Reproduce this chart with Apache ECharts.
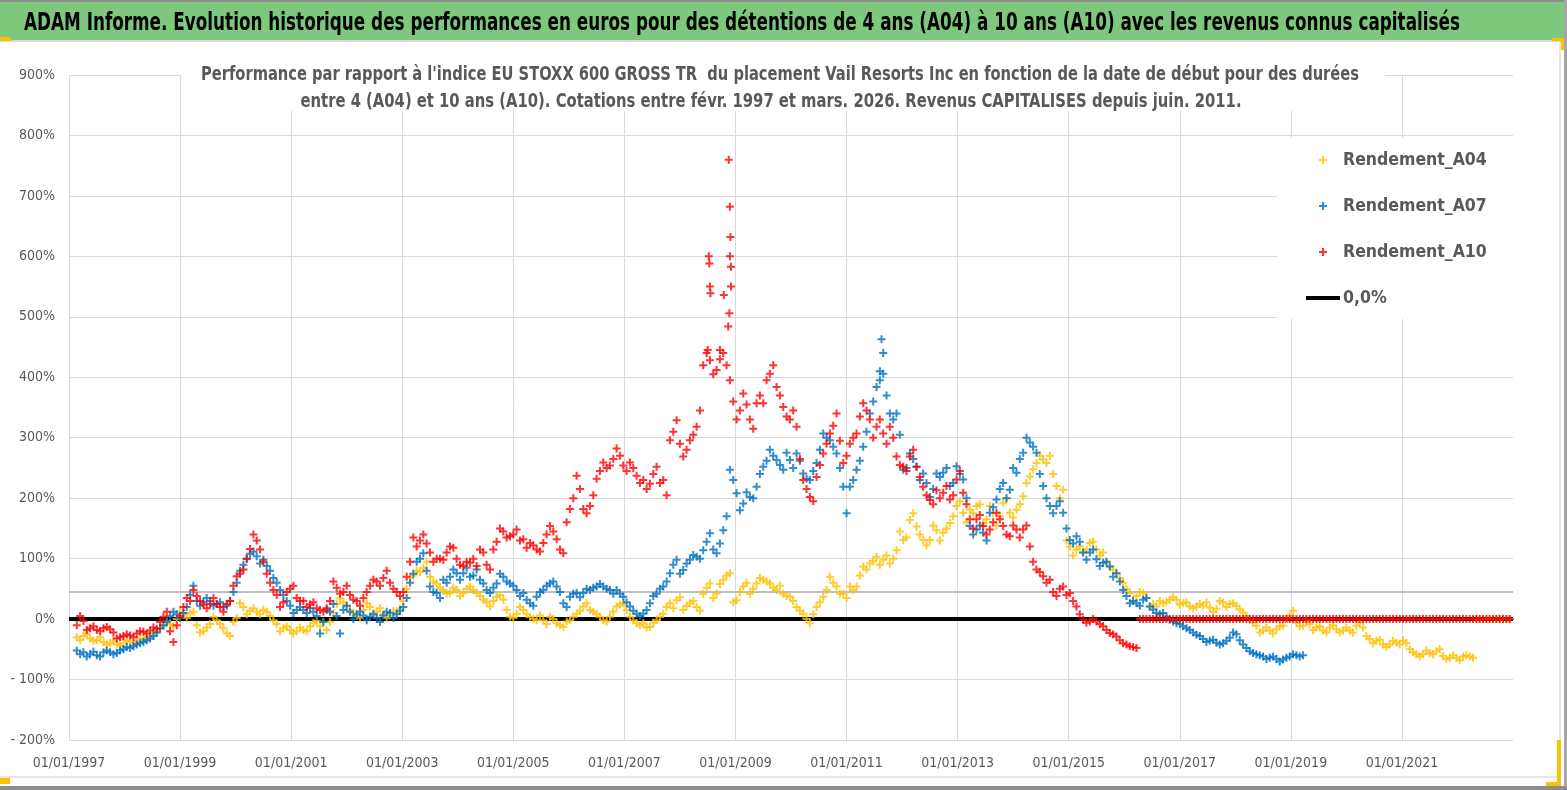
<!DOCTYPE html>
<html><head><meta charset="utf-8">
<script src="https://cdn.jsdelivr.net/npm/echarts@6/dist/echarts.min.js"></script>
<style>html,body{margin:0;padding:0;background:#fff}#c{width:1567px;height:790px}</style>
</head><body><div id="c"></div>
<script>
// ---- data ----
const START_YEAR = 1997.14;   // date of first sample (decimal year)
const STEP = 0.12;            // spacing of samples in years
const MID_START = 1997.20;    // second reading pass, half a step later
const A04 = [-30,-28,-32,-35,-38,-40,-42,-40,-38,-36,-34,-28,-20,-12,-8,0,8,10,-10,-20,-8,-2,-15,-28,2,20,14,12,15,5,-8,-15,-18,-20,-18,-12,-3,-5,-5,25,28,15,5,15,20,12,8,6,10,30,68,80,
 85,70,59,48,43,48,43,54,43,32,21,37,32,4,9,15,4,-2,-2,4,-7,-13,-2,9,21,15,9,-2,4,21,26,4,-7,
 -7,-13,-2,9,26,31,15,26,20,42,59,42,65,76,31,54,42,59,65,59,48,42,37,20,9,-7,20,37,70,54,42,54,54,87,92,103,98,92,114,131,164,153,131,131,147,
 143,159,187,176,181,187,159,187,154,192,176,181,203,236,258,264,270,220,214,120,115,110,126,115,110,87,76,60,43,38,43,21,21,26,32,32,26,21,21,
 22,19,17,28,25,22,11,0,-11,-19,-19,-17,-11,6,-6,-11,-8,-14,-19,-14,-17,-19,-19,-11,-14,-33,-36,-42,-42,-39,-36,-50,-58,-58,-56,-53,-61,-64,-64,-62,-62,
 0,0,0,0,0,0];
const A04_mid = [-35,-25,-36,-30,-42,-36,-44,-36,-40,-32,-30,-24,-16,-4,-12,12,2,12,-22,-14,4,-8,-24,-5,26,8,18,8,12,-2,-20,-12,-24,-14,-20,-6,-12,-18,10,34,22,10,2,26,10,18,2,14,18,50,72,
 78,95,62,52,42,52,38,50,48,38,28,30,40,15,2,20,8,0,6,-8,0,-10,-4,4,14,26,12,4,-4,12,24,15,-2,-10,
 -14,-6,4,20,18,36,22,30,14,52,35,58,72,28,45,60,50,68,62,52,55,38,30,14,0,8,28,48,60,42,35,48,72,82,96,90,105,100,145,135,175,140,122,155,
 130,150,170,195,160,175,190,165,175,170,200,168,190,225,248,270,258,240,200,130,105,120,115,128,105,95,82,68,50,30,45,35,25,30,28,36,24,28,18,
 25,28,12,30,20,26,16,5,-6,-22,-14,-24,-12,0,14,-12,-4,-18,-12,-22,-10,-22,-14,-22,-6,-28,-40,-34,-46,-36,-42,-40,-55,-62,-52,-58,-50,-66,-60,-68,-60,-64,
 0,0,0,0,0];
const A07 = [-52,-55,-58,-60,-55,-55,-56,-50,-48,-42,-38,-32,-22,-10,5,8,10,40,30,28,30,25,20,30,60,90,108,104,98,80,60,40,22,15,15,18,5,-5,12,5,15,12,8,6,4,2,6,10,8,20,60,95,
 109,54,43,65,70,76,76,70,82,59,43,59,70,59,48,43,26,37,48,59,54,26,37,43,43,48,54,54,48,48,37,21,9,
 9,26,42,54,76,98,81,98,103,114,142,109,147,247,208,191,202,219,252,280,263,247,263,274,241,230,258,307,296,274,219,219,247,285,340,384,406,340,340,247,274,252,241,202,241,
 242,220,253,231,154,148,143,176,198,225,214,242,275,292,275,220,187,187,176,131,137,110,110,99,93,87,76,48,26,26,32,21,10,10,-1,-7,-12,-18,-26,
 -33,-36,-39,-40,-31,-25,-42,-53,-58,-62,-64,-66,-67,-62,-60,-60];
const A07_mid = [-58,-62,-54,-62,-52,-58,-52,-46,-45,-40,-35,-28,-15,-5,12,2,20,55,22,35,22,28,22,45,80,100,112,92,88,68,48,30,10,20,10,12,-24,15,25,-24,22,0,12,-2,8,-5,12,2,14,35,75,
 100,80,45,35,60,82,65,85,72,65,48,52,75,62,55,38,32,22,45,55,62,45,20,42,36,50,52,58,50,42,42,28,14,5,
 15,38,50,62,90,75,92,106,100,128,115,125,170,230,180,210,200,240,262,270,255,275,250,262,232,245,280,300,285,250,175,230,262,310,360,395,370,330,305,250,265,230,225,215,
 235,250,225,240,200,140,155,130,185,215,200,250,265,300,285,240,200,175,195,150,125,128,98,115,88,95,70,62,38,30,22,35,16,8,4,-4,-8,-15,-22,
 -28,-38,-34,-42,-36,-22,-35,-48,-56,-60,-66,-62,-70,-64,-58,-62];
const A10 = [-10,-3,-15,-18,-15,-17,-32,-28,-27,-24,-21,-19,-16,4,-20,-10,20,30,38,24,25,25,12,30,71,82,116,130,95,60,40,28,50,35,30,24,18,12,30,52,45,40,30,35,55,62,68,60,45,45,95,120,
 140,110,100,98,120,100,88,93,88,110,82,128,145,137,148,132,126,115,126,154,132,109,182,237,182,187,232,259,254,282,254,259,237,
 230,224,252,230,296,329,269,296,318,420,428,412,440,395,330,373,330,357,357,406,384,351,330,318,230,202,235,274,307,340,258,290,307,357,330,318,307,318,269,252,269,252,219,197,213,
 209,198,231,209,165,165,154,148,176,154,137,148,148,120,82,71,65,38,54,43,21,-1,-4,-4,-12,-23,-29,-40,-45,-48,
 0,0,0,0,0,0,0,0,0,0,0,0,0,0,0,0,0,0,0,0,0,0,0,0,0,0,0,0,0,0,0,0,0,0,0,0,0,0,0,0,0,0,0,0,0,0,0,0,0,0,0,0,0,0,0,0];
const A10_mid = [5,-18,-12,-20,-13,-22,-30,-25,-30,-20,-24,-14,-5,12,-38,5,35,48,30,18,35,20,25,55,75,100,140,115,75,48,20,45,55,30,20,28,15,18,62,42,55,32,22,45,65,55,80,50,38,70,135,
 130,125,95,100,110,118,90,95,100,115,90,115,150,135,140,130,118,122,112,140,145,115,160,200,215,175,205,245,250,265,270,245,250,225,
 215,240,225,205,310,290,280,305,345,440,405,430,420,360,345,355,315,370,395,420,370,335,345,265,215,195,255,290,320,295,270,300,335,345,300,330,290,300,255,245,280,235,205,190,
 200,220,205,245,190,150,172,140,160,165,140,155,135,155,95,78,60,45,50,40,30,8,-6,0,-8,-18,-25,-35,-42,-46,
 0,0,0,0,0,0,0,0,0,0,0,0,0,0,0,0,0,0,0,0,0,0,0,0,0,0,0,0,0,0,0,0,0,0,0,0,0,0,0,0,0,0,0,0,0,0,0,0,0,0,0,0,0,0,0,0];
// isolated points that stand out of the clouds: [decimal year, %]
const A10_spikes = [[2008.88,760],[2008.90,682],[2008.91,632],[2008.90,600],[2008.52,600],[2008.53,588],[2008.54,550],[2008.55,539],[2008.79,536],[2008.92,583],[2008.92,550],[2008.89,506],[2008.87,484],[2008.50,445],[2008.72,445]];
const A07_spikes = [[2011.63,463],[2011.66,440],[2011.60,410]];
const zeroLevel = [0];
const refLevel = [44.7];
const xTickYears = [1997,1999,2001,2003,2005,2007,2009,2011,2013,2015,2017,2019,2021];
const X_MIN = 1997, X_MAX = 2023;
const yTicks = [-200,-100,0,100,200,300,400,500,600,700,800,900];

const TITLE = "ADAM Informe. Evolution historique des performances en euros pour des détentions de 4 ans (A04) à 10 ans (A10) avec les revenus connus capitalisés";
const SUB1 = "Performance par rapport à l'indice EU STOXX 600 GROSS TR  du placement Vail Resorts Inc en fonction de la date de début pour des durées";
const SUB2 = "entre 4 (A04) et 10 ans (A10). Cotations entre févr. 1997 et mars. 2026. Revenus CAPITALISES depuis juin. 2011.";

// ---- build ----
const FONT = "'Liberation Sans Narrow','DejaVu Sans Condensed',sans-serif";
const PLUS = 'path://M3,0H5V3H8V5H5V8H3V5H0V3H3Z';
const BAR = 'path://M0,0H34V4H0Z';
const toPts = (arr, start) => arr.map((v, i) => [+(start + i * STEP).toFixed(4), v]);

// text fitting: scale a text horizontally so it spans a given width
const ctx = document.createElement('canvas').getContext('2d');
const fitScale = (text, font, width) => { ctx.font = font; return width / ctx.measureText(text).width; };
const TFONT = "bold 25px " + FONT, SFONT = "bold 19px " + FONT;

const chart = echarts.init(document.getElementById('c'), null, {renderer: 'canvas'});
const scat = (name, color, data) => ({
  name, type: 'scatter', data, symbol: PLUS, symbolSize: 8,
  itemStyle: {color}, emphasis: {disabled: true}, animation: false
});

chart.setOption({
  backgroundColor: '#fff',
  animation: false,
  grid: {left: 69, right: 54, top: 75, bottom: 50},
  xAxis: {
    type: 'value', min: X_MIN, max: X_MAX, interval: 2,
    axisLine: {show: false}, axisTick: {show: false},
    splitLine: {show: true, showMaxLine: false, lineStyle: {color: '#D9D9D9', width: 1}},
    axisLabel: {
      margin: 16, color: '#595959', fontSize: 14, fontFamily: FONT,
      showMaxLabel: false,
      formatter: v => xTickYears.includes(Math.round(v)) ? '01/01/' + Math.round(v) : ''
    }
  },
  yAxis: {
    type: 'value', min: yTicks[0], max: yTicks[yTicks.length - 1], interval: 100,
    axisLine: {show: false}, axisTick: {show: false},
    splitLine: {lineStyle: {color: '#D9D9D9', width: 1}},
    axisLabel: {
      margin: 14, color: '#595959', fontSize: 14, fontFamily: FONT,
      formatter: v => v < 0 ? '- ' + Math.abs(v) + '%' : v + '%'
    }
  },
  legend: {
    orient: 'vertical', left: 1277, top: 138,
    backgroundColor: '#fff',
    padding: [11, 27, 10, 29],
    itemWidth: 34, itemHeight: 8, itemGap: 24,
    textStyle: {fontSize: 17.5, fontWeight: 'bold', color: '#595959', fontFamily: FONT, lineHeight: 22, padding: [0, 0, 0, -2]},
    data: [
      {name: 'Rendement_A04', icon: PLUS},
      {name: 'Rendement_A07', icon: PLUS},
      {name: 'Rendement_A10', icon: PLUS},
      {name: '0,0%', icon: BAR, itemStyle: {color: '#000'}}
    ]
  },
  series: [
    {name: 'ref', type: 'line', data: [[X_MIN, refLevel[0]], [X_MAX, refLevel[0]]], symbol: 'none',
     lineStyle: {color: '#BFBFBF', width: 2}, silent: true, z: 1},
    {name: '0,0%', type: 'line', data: [[X_MIN, zeroLevel[0]], [X_MAX, zeroLevel[0]]], symbol: 'none',
     lineStyle: {color: '#000', width: 4}, itemStyle: {color: '#000'}, silent: true, z: 1},
    scat('Rendement_A04', '#FFC000', toPts(A04, START_YEAR).concat(toPts(A04_mid, MID_START))),
    scat('Rendement_A07', '#0070C0', toPts(A07, START_YEAR).concat(toPts(A07_mid, MID_START), A07_spikes)),
    scat('Rendement_A10', '#FF0000', toPts(A10, START_YEAR).concat(toPts(A10_mid, MID_START), A10_spikes))
  ],
  graphic: [
    {type: 'rect', z: 100, shape: {x: 0, y: 0, width: 1567, height: 40}, style: {fill: '#7DC87D'}},
    {type: 'rect', z: 101, shape: {x: 0, y: 0, width: 1567, height: 2}, style: {fill: '#8C8C8C'}},
    {type: 'rect', z: 101, shape: {x: 0, y: 40, width: 1567, height: 2}, style: {fill: '#D9D9D9'}},
    {type: 'rect', z: 101, shape: {x: 1564, y: 0, width: 3, height: 790}, style: {fill: '#A6A6A6'}},
    {type: 'rect', z: 101, shape: {x: 0, y: 786, width: 1567, height: 4}, style: {fill: '#8C8C8C'}},
    {type: 'rect', z: 101, shape: {x: 0, y: 776, width: 1557, height: 2}, style: {fill: '#E6E6E6'}},
    {type: 'rect', z: 101, shape: {x: 1559, y: 42, width: 2, height: 734}, style: {fill: '#E6E6E6'}},
    {type: 'rect', z: 102, shape: {x: 0, y: 37, width: 11, height: 4}, style: {fill: '#FFC000'}},
    {type: 'rect', z: 102, shape: {x: 1552, y: 38, width: 12, height: 3}, style: {fill: '#FFC000'}},
    {type: 'rect', z: 102, shape: {x: 1561, y: 38, width: 3, height: 12}, style: {fill: '#FFC000'}},
    {type: 'rect', z: 102, shape: {x: 0, y: 778, width: 10, height: 6}, style: {fill: '#FFC000'}},
    {type: 'rect', z: 102, shape: {x: 1557, y: 740, width: 4, height: 46}, style: {fill: '#FFC000'}},
    {type: 'rect', z: 102, shape: {x: 1546, y: 782, width: 15, height: 4}, style: {fill: '#FFC000'}},
    {type: 'text', z: 103, x: 24, y: 23, scaleX: fitScale(TITLE, TFONT, 1436),
     style: {text: TITLE, fill: '#000', font: TFONT, textVerticalAlign: 'middle'}},
    {type: 'rect', z: 100, shape: {x: 181, y: 58, width: 1204, height: 53}, style: {fill: '#fff'}},
    {type: 'text', z: 103, x: 780, y: 75, scaleX: fitScale(SUB1, SFONT, 1158),
     style: {text: SUB1, fill: '#595959', font: SFONT, textAlign: 'center', textVerticalAlign: 'middle'}},
    {type: 'text', z: 103, x: 771, y: 102, scaleX: fitScale(SUB2, SFONT, 941),
     style: {text: SUB2, fill: '#595959', font: SFONT, textAlign: 'center', textVerticalAlign: 'middle'}}
  ]
});
</script></body></html>
